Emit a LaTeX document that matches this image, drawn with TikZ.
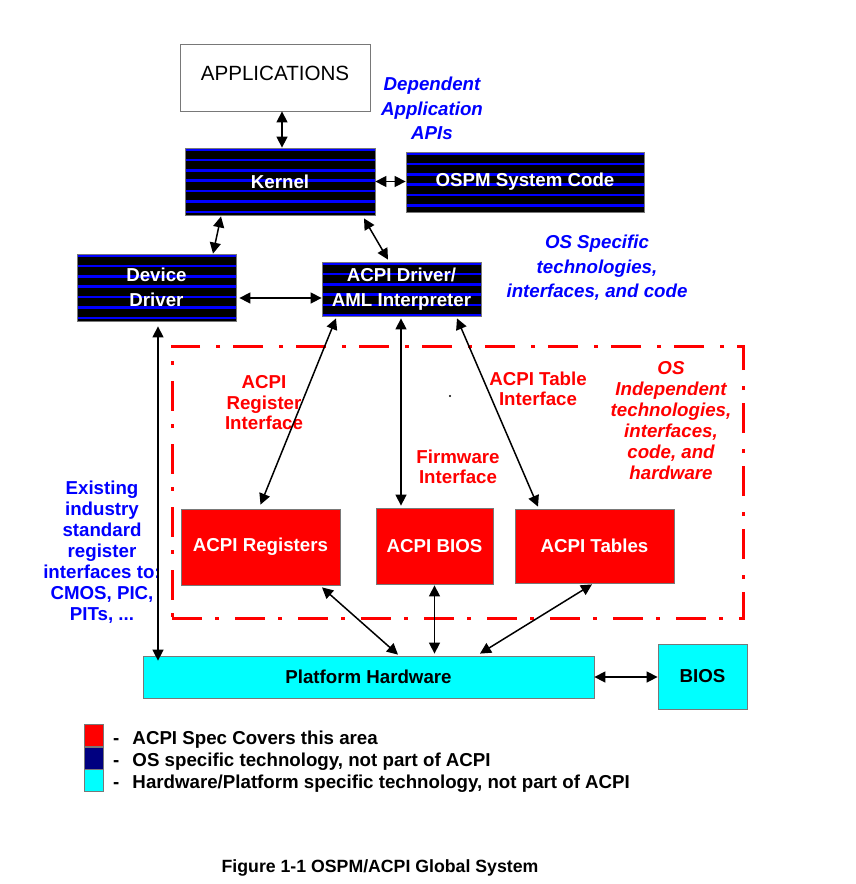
\documentclass[tikz,border=0pt]{standalone}
\usepackage{fontspec}
\setmainfont{Liberation Sans}
\usetikzlibrary{arrows.meta}
\definecolor{myred}{RGB}{255,0,0}
\definecolor{myblue}{RGB}{0,0,255}
\definecolor{mycyan}{RGB}{0,255,255}
\definecolor{mynavy}{RGB}{0,0,128}
\definecolor{edgegray}{RGB}{120,120,120}
\begin{document}
\begin{tikzpicture}[x=1pt,y=-1pt,
  box/.style={draw=edgegray, line width=0.8pt, inner sep=0pt, align=center,
    font=\bfseries\fontsize{18.7}{25}\selectfont},
  striped/.style={box, fill=black, text=white,
    path picture={\foreach \k in {0,...,7}{
      \draw[myblue, line width=2.5pt]
        ([yshift={-(1.5+\k*10.4)*1pt}]path picture bounding box.north west) --
        ([yshift={-(1.5+\k*10.4)*1pt}]path picture bounding box.north east);}}},
  redbox/.style={box, fill=myred, text=white},
  cyanbox/.style={box, fill=mycyan, text=black},
  bluelbl/.style={text=myblue, align=center, inner sep=0pt,
    font=\bfseries\itshape\fontsize{18.7}{24.5}\selectfont},
  blueplain/.style={text=myblue, align=center, inner sep=0pt,
    font=\bfseries\fontsize{18.7}{21}\selectfont},
  redlbl/.style={text=myred, align=center, inner sep=0pt,
    font=\bfseries\fontsize{18.7}{20.5}\selectfont},
  reditl/.style={text=myred, align=center, inner sep=0pt,
    font=\bfseries\itshape\fontsize{18.7}{21}\selectfont},
  biarrow/.style={{Triangle[length=11pt,width=11pt]}-{Triangle[length=11pt,width=11pt]},
    line width=1.5pt, black},
  legsq/.style={draw=edgegray, line width=0.6pt, minimum width=19pt, minimum height=22pt,
    inner sep=0pt, anchor=north west},
  legtxt/.style={anchor=base west, inner sep=0pt, font=\bfseries\fontsize{18.7}{21}\selectfont},
  regionbox/.style={draw=myred, line width=3pt, dash pattern=on 30pt off 13pt on 4pt off 16pt,
    minimum width=571pt, minimum height=272pt, inner sep=0pt}
]
\useasboundingbox (0,0) rectangle (855,884);

% region
\node[regionbox] (region) at (457.5,482) {};

% top boxes
\node[box, fill=white, font=\fontsize{20.6}{24}\selectfont, minimum width=190pt, minimum height=67pt]
  (apps) at (275,77.5) {\raisebox{9pt}{APPLICATIONS}};
\node[striped, minimum width=190pt, minimum height=67pt] (kernel) at (280,181.5) {Kernel};
\node[striped, minimum width=238pt, minimum height=60pt] (ospm) at (525,182) {OSPM System Code};
\node[striped, minimum width=159pt, minimum height=67pt] (devdrv) at (156.5,287.5) {Device\\Driver};
\node[striped, minimum width=159pt, minimum height=54pt] (acpidrv) at (401.5,289) {ACPI Driver/\\AML Interpreter};

% red boxes
\node[redbox, minimum width=159pt, minimum height=76pt] (regs) at (260.5,547) {ACPI Registers};
\node[redbox, minimum width=117pt, minimum height=76pt] (abios) at (434.5,546) {ACPI BIOS};
\node[redbox, minimum width=159pt, minimum height=74pt] (tables) at (594.5,546) {ACPI Tables};

% cyan boxes
\node[cyanbox, minimum width=451pt, minimum height=42pt] (platform) at (368.5,677) {Platform Hardware};
\node[cyanbox, minimum width=89pt, minimum height=65pt] (bios) at (702.5,676.5) {BIOS};

% labels
\node[bluelbl] (depapi) at (432,108.5) {Dependent\\Application\\APIs};
\node[bluelbl] (osspec) at (597,268) {OS Specific\\technologies,\\interfaces, and code};
\node[blueplain] (existing) at (102,552) {Existing\\industry\\standard\\register\\interfaces to:\\CMOS, PIC,\\PITs, ...};
\node[redlbl] (regif) at (264,403) {ACPI\\Register\\Interface};
\node[redlbl] (tabif) at (538,389) {ACPI Table\\Interface};
\node[redlbl] (fwif) at (458,467) {Firmware\\Interface};
\node[reditl] (osind) at (671,420.5) {OS\\Independent\\technologies,\\interfaces,\\code, and\\hardware};
\fill[black] (450,396) circle (1.1pt);

% connectors
\draw[biarrow] ([xshift=7pt]apps.south) -- ([xshift=2pt]kernel.north);
\draw[biarrow] (kernel.east) -- (kernel.east -| ospm.west);
\draw[biarrow] ([xshift=-59pt,yshift=-1pt]kernel.south) -- ([xshift=56.5pt]devdrv.north);
\draw[biarrow] ([xshift=84pt,yshift=-3pt]kernel.south) -- ([xshift=-13.5pt,yshift=2pt]acpidrv.north);
\draw[biarrow] ([xshift=3pt,yshift=-10.5pt]devdrv.east) -- ([yshift=-10.5pt]devdrv.east -| acpidrv.west);
\draw[biarrow] ([xshift=-65.5pt,yshift=-2pt]acpidrv.south) -- ([yshift=4pt]regs.north);
\draw[biarrow] ([xshift=-0.5pt,yshift=-2pt]acpidrv.south) -- ([xshift=-33.5pt,yshift=2pt]abios.north);
\draw[biarrow] ([xshift=55.5pt,yshift=-2pt]acpidrv.south) -- ([xshift=-56.5pt,yshift=2pt]tables.north);
\draw[biarrow] ([xshift=1.5pt,yshift=-5pt]devdrv.south) -- ([xshift=1.5pt,yshift=-5pt]devdrv.south |- platform.north);
\draw[biarrow] ([xshift=61.5pt,yshift=-2pt]regs.south) -- ([xshift=29.5pt,yshift=1pt]platform.north);
\draw[biarrow] ([yshift=-1pt]abios.south) -- ([yshift=2pt]abios.south |- platform.north);
\draw[biarrow] ([xshift=-2.5pt,yshift=-1pt]tables.south) -- ([xshift=111.5pt,yshift=2pt]platform.north);
\draw[biarrow] (platform.east) -- (platform.east -| bios.west);

% legend
\node[legsq, fill=myred] (lred) at (84,724) {};
\node[legsq, fill=mynavy] (lnavy) at (lred.south west) {};
\node[legsq, fill=mycyan] (lcyan) at (lnavy.south west) {};
\node[legtxt] (t1) at (113,744) {-\hspace{0.7em}ACPI Spec Covers this area};
\node[legtxt] (t2) at (113,766.5) {-\hspace{0.7em}OS specific technology, not part of ACPI};
\node[legtxt] (t3) at (113,788.5) {-\hspace{0.7em}Hardware/Platform specific technology, not part of ACPI};

% caption
\node[anchor=base, inner sep=0pt, font=\bfseries\fontsize{17.7}{20}\selectfont] (caption) at (380,872)
  {Figure 1-1 OSPM/ACPI Global System};
\end{tikzpicture}
\end{document}
